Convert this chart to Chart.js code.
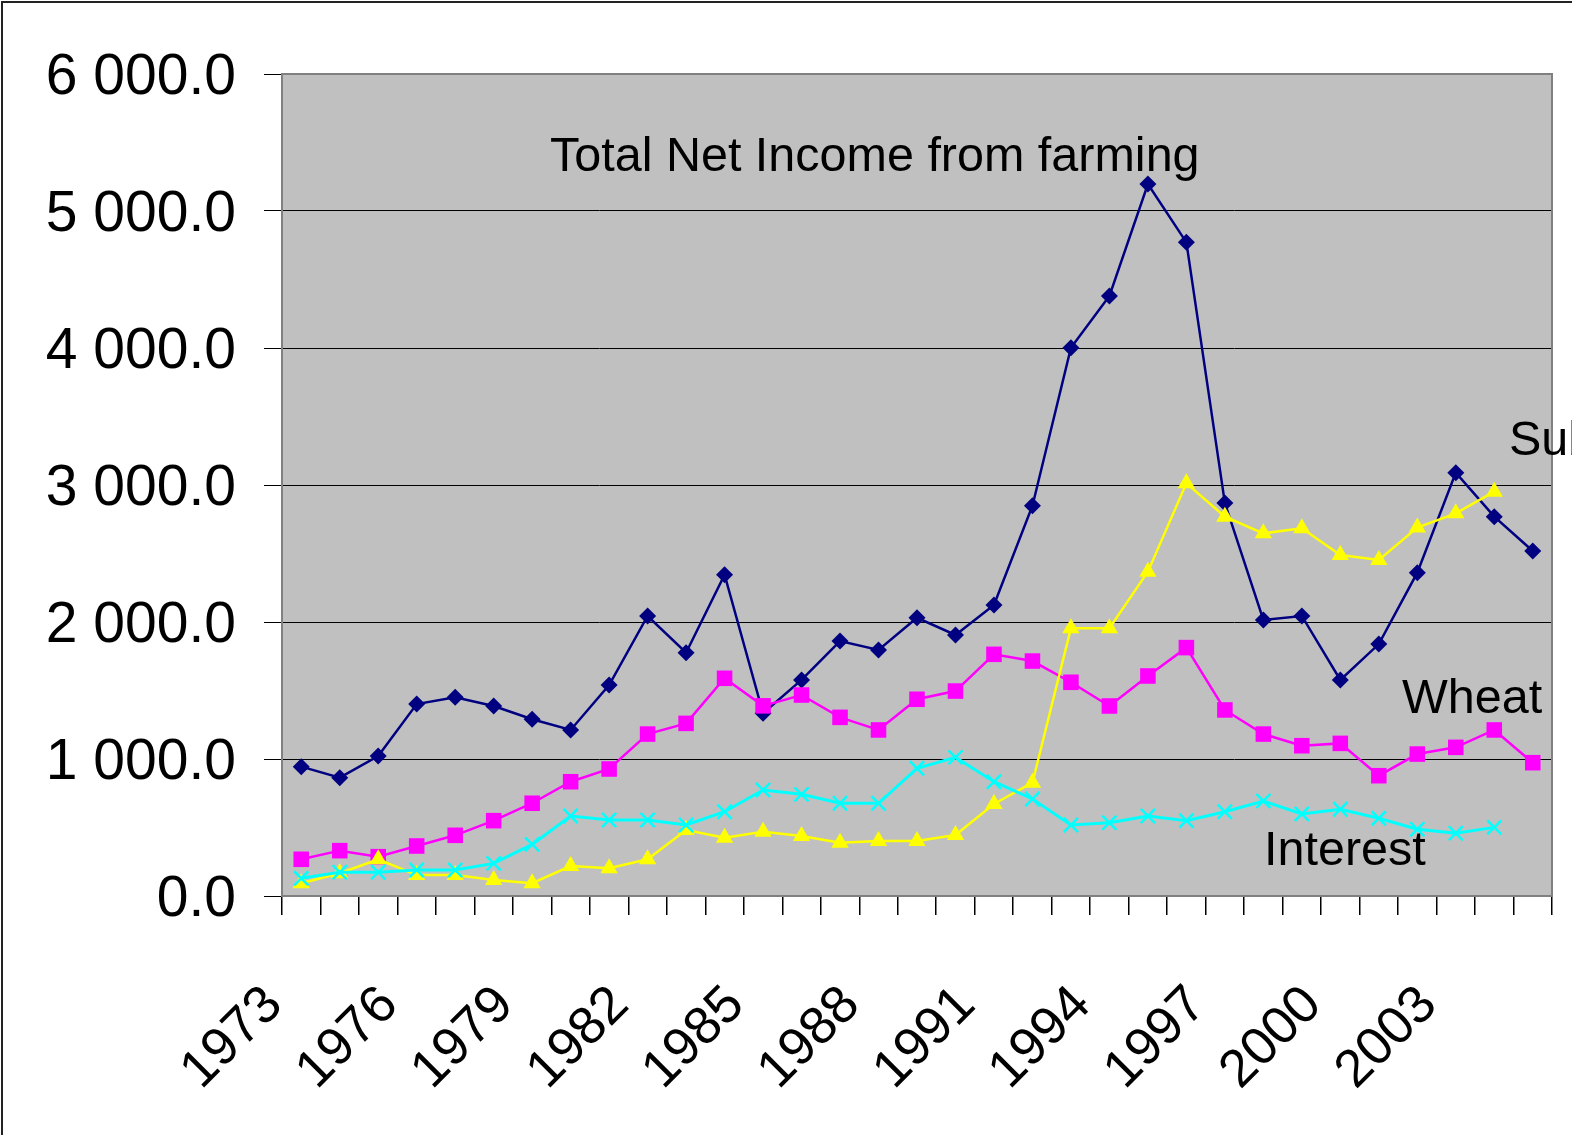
<!DOCTYPE html>
<html>
<head>
<meta charset="utf-8">
<script src="https://cdn.jsdelivr.net/npm/chart.js@4.4.1/dist/chart.umd.min.js"></script>
<style>
  html, body { margin: 0; padding: 0; background: #fff; }
  #wrap { width: 1572px; height: 1135px; position: relative; }
</style>
</head>
<body>
<div id="wrap"><canvas id="c" width="1572" height="1135"></canvas></div>
<script>
const years = ['1973','1974','1975','1976','1977','1978','1979','1980','1981','1982','1983','1984','1985','1986','1987','1988','1989','1990','1991','1992','1993','1994','1995','1996','1997','1998','1999','2000','2001','2002','2003','2004','2005'];
const totalNetIncome = [944, 864, 1022, 1401, 1450, 1387, 1290, 1212, 1540, 2044, 1776, 2345, 1334, 1577, 1861, 1796, 2031, 1905, 2124, 2849, 4002, 4380, 5197, 4771, 2868, 2015, 2044, 1577, 1839, 2360, 3090, 2769, 2518];
const wheat = [268, 331, 287, 365, 443, 550, 677, 834, 927, 1182, 1260, 1589, 1388, 1467, 1304, 1212, 1436, 1496, 1764, 1715, 1560, 1387, 1606, 1813, 1358, 1182, 1097, 1114, 878, 1036, 1085, 1212, 973];
const subsidies = [93, 166, 268, 153, 153, 117, 93, 219, 202, 268, 482, 426, 469, 438, 389, 401, 401, 445, 672, 827, 1954, 1954, 2367, 3012, 2769, 2647, 2684, 2489, 2453, 2689, 2793, 2951, null];
const interest = [129, 173, 173, 190, 190, 238, 377, 584, 555, 555, 518, 615, 774, 742, 677, 677, 932, 1012, 834, 708, 518, 535, 584, 550, 615, 693, 599, 633, 567, 487, 458, 501, null];
const yTicks = [0, 1000, 2000, 3000, 4000, 5000, 6000];
const labelEvery = 3;

const FONT = '"Liberation Sans", Arial, sans-serif';

function fmt(v) {
  const s = Number(v).toFixed(1);
  const [i, d] = s.split('.');
  return i.replace(/\B(?=(\d{3})+(?!\d))/g, ' ') + '.' + d;
}

const decor = {
  id: 'decor',
  beforeDraw(chart) {
    const { ctx, chartArea: a } = chart;
    ctx.save();
    ctx.fillStyle = '#ffffff';
    ctx.fillRect(0, 0, chart.width, chart.height);
    ctx.fillStyle = '#C0C0C0';
    ctx.fillRect(a.left, a.top, a.right - a.left, a.bottom - a.top);
    ctx.strokeStyle = '#222';
    ctx.lineWidth = 2;
    ctx.beginPath();
    ctx.moveTo(2, chart.height);
    ctx.lineTo(2, 2);
    ctx.lineTo(chart.width, 2);
    ctx.stroke();
    ctx.restore();
  },
  beforeDatasetsDraw(chart) {
    const { ctx, chartArea: a } = chart;
    ctx.save();
    ctx.strokeStyle = '#808080';
    ctx.lineWidth = 2;
    ctx.strokeRect(a.left, a.top, a.right - a.left, a.bottom - a.top);
    ctx.restore();
  },
  afterDatasetsDraw(chart) {
    const { ctx } = chart;
    ctx.save();
    ctx.fillStyle = '#000';
    ctx.font = '48.5px ' + FONT;
    ctx.textBaseline = 'alphabetic';
    ctx.textAlign = 'left';
    ctx.fillText('Total Net Income from farming', 550, 171);
    ctx.fillText('Subsidies', 1509, 455);
    ctx.fillText('Wheat', 1402, 713);
    ctx.fillText('Interest', 1264, 865);
    ctx.restore();
  }
};

new Chart(document.getElementById('c'), {
  type: 'line',
  data: {
    labels: years,
    datasets: [
      { label: 'Total Net Income from farming', data: totalNetIncome, borderColor: '#000080', backgroundColor: '#000080',
        borderWidth: 2.5, pointStyle: 'rectRot', pointRadius: 8.5, pointBorderWidth: 0, order: 4 },
      { label: 'Wheat', data: wheat, borderColor: '#FF00FF', backgroundColor: '#FF00FF',
        borderWidth: 2.5, pointStyle: 'rect', pointRadius: 11, pointBorderWidth: 0, order: 3 },
      { label: 'Subsidies', data: subsidies, borderColor: '#FFFF00', backgroundColor: '#FFFF00',
        borderWidth: 2.5, pointStyle: 'triangle', pointRadius: 10, pointBorderWidth: 0, order: 2 },
      { label: 'Interest', data: interest, borderColor: '#00FFFF', backgroundColor: '#00FFFF',
        borderWidth: 3, pointStyle: 'crossRot', pointRadius: 10, pointBorderWidth: 2.5, order: 1 }
    ]
  },
  options: {
    responsive: false,
    animation: false,
    layout: { padding: { left: 0, top: 74, right: 20, bottom: 0 } },
    plugins: { legend: { display: false }, tooltip: { enabled: false } },
    elements: { line: { tension: 0 } },
    scales: {
      x: {
        type: 'category',
        offset: true,
        grid: { offset: true, drawOnChartArea: false, color: '#000', tickLength: 19, lineWidth: 1.5 },
        border: { display: true, color: '#808080', width: 2 },
        ticks: {
          autoSkip: false, minRotation: 45, maxRotation: 45, padding: 59, labelOffset: -27,
          color: '#000', font: { family: FONT, size: 53 },
          callback: function (val, idx) { return idx % labelEvery === 0 ? this.getLabelForValue(val) : ''; }
        },
        afterFit(scale) { scale.height = 1135 - 896; scale.paddingLeft = 0; scale.paddingRight = 0; }
      },
      y: {
        min: yTicks[0], max: yTicks[yTicks.length - 1],
        afterBuildTicks(scale) { scale.ticks = yTicks.map(v => ({ value: v })); },
        grid: { color: '#000', lineWidth: 1, tickLength: 18, tickColor: '#000' },
        border: { display: false },
        ticks: { padding: 28, labelOffset: 4, color: '#000', font: { family: FONT, size: 57 }, callback: v => fmt(v) },
        afterFit(scale) { scale.width = 282; scale.paddingTop = 0; scale.paddingBottom = 0; }
      }
    }
  },
  plugins: [decor]
});
</script>
</body>
</html>
